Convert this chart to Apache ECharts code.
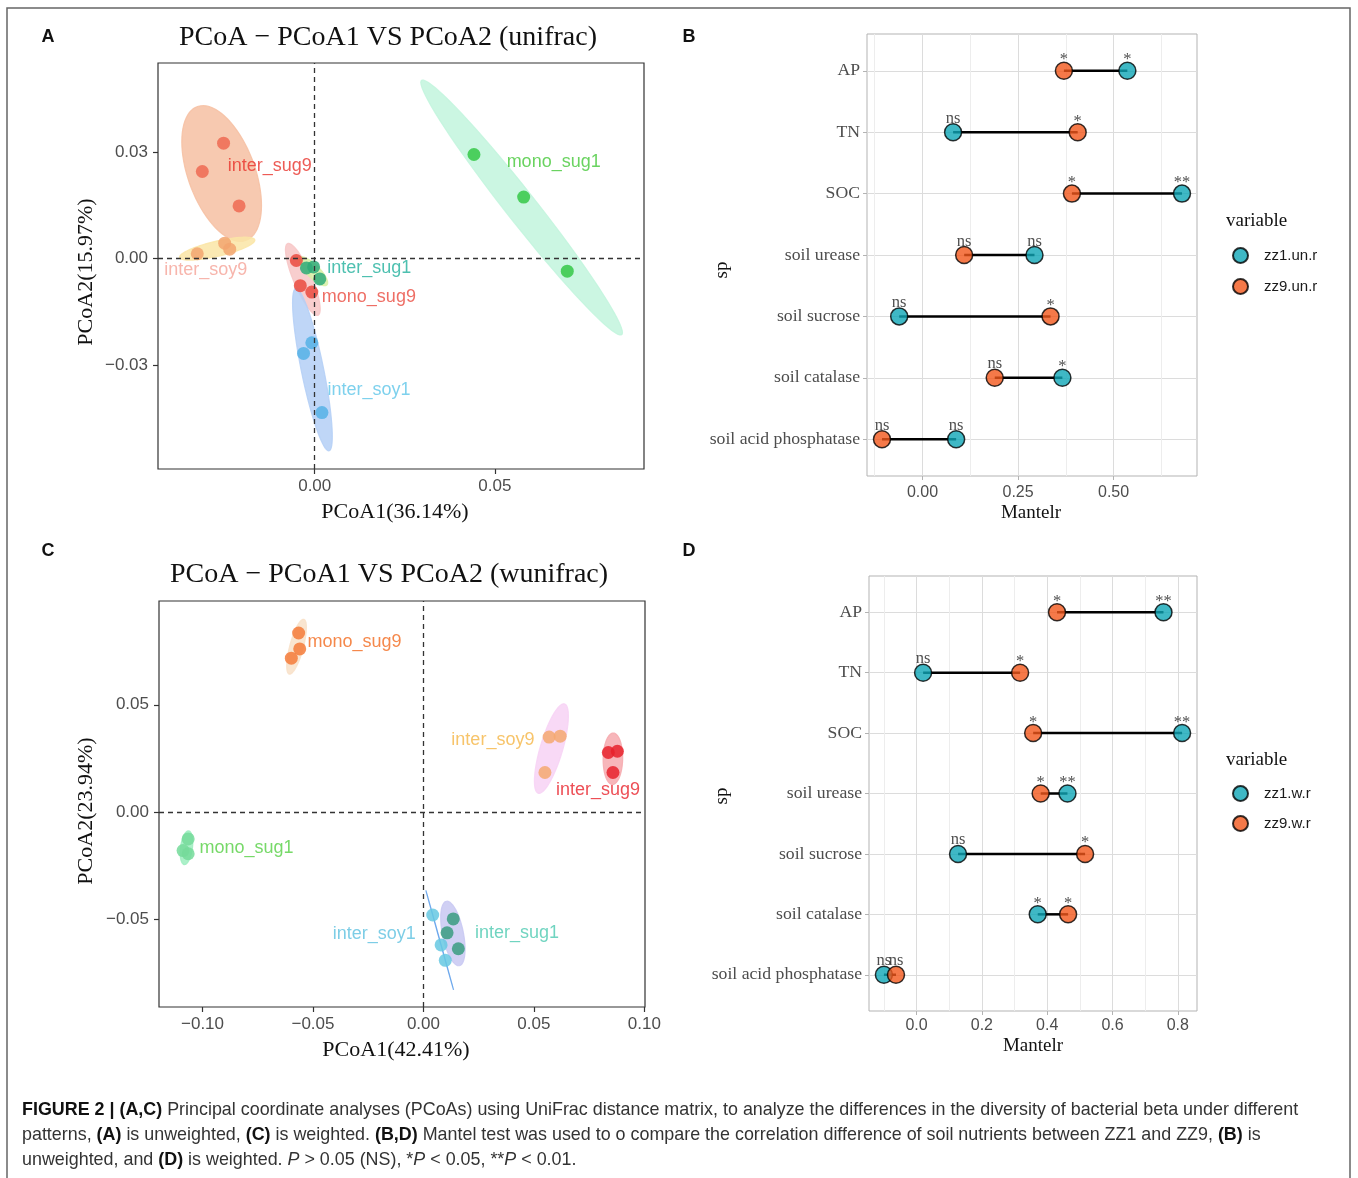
<!DOCTYPE html>
<html><head><meta charset="utf-8">
<script src="https://cdn.jsdelivr.net/npm/echarts@6/dist/echarts.min.js"></script>
<style>html,body{margin:0;padding:0;background:#fff}#c{width:1358px;height:1178px}</style>
</head><body><div id="c"></div>
<script>
// ================= DATA =================
// Panel A : PCoA (unweighted unifrac)
const groupsA = ['inter_sug9','inter_soy9','mono_sug9','inter_sug1','inter_soy1','mono_sug1'];
const pcoaA_pc1 = [
  [-0.0253,-0.0312,-0.0210],
  [-0.0326,-0.0250,-0.0236],
  [-0.0051,-0.0040,-0.0008],
  [-0.0023,-0.0003, 0.0014],
  [-0.0008,-0.0031, 0.0020],
  [ 0.0442, 0.0580, 0.0701]
];
const pcoaA_pc2 = [
  [ 0.0326, 0.0246, 0.0149],
  [ 0.0014, 0.0044, 0.0027],
  [-0.0005,-0.0076,-0.0094],
  [-0.0026,-0.0023,-0.0057],
  [-0.0237,-0.0267,-0.0434],
  [ 0.0294, 0.0174,-0.0035]
];
const rangeA_x = [-0.0435, 0.0914];
const rangeA_y = [-0.0593, 0.0552];
const ticksA_x = [0, 0.05];
const ticksA_y = [-0.03, 0, 0.03];

// Panel C : PCoA (weighted unifrac)
const groupsC = ['mono_sug9','inter_soy9','inter_sug9','mono_sug1','inter_soy1','inter_sug1'];
const pcoaC_pc1 = [
  [-0.0565,-0.0560,-0.0598],
  [ 0.0569, 0.0619, 0.0550],
  [ 0.0837, 0.0878, 0.0858],
  [-0.1065,-0.1088,-0.1065],
  [ 0.0042, 0.0080, 0.0099],
  [ 0.0135, 0.0107, 0.0158]
];
const pcoaC_pc2 = [
  [ 0.0834, 0.0760, 0.0717],
  [ 0.0350, 0.0354, 0.0185],
  [ 0.0278, 0.0284, 0.0185],
  [-0.0124,-0.0178,-0.0193],
  [-0.0478,-0.0617,-0.0689],
  [-0.0496,-0.0561,-0.0635]
];
const rangeC_x = [-0.1197, 0.1003];
const rangeC_y = [-0.0906, 0.0983];
const ticksC_x = [-0.10, -0.05, 0, 0.05, 0.10];
const ticksC_y = [-0.05, 0, 0.05];

// Panels B / D : Mantel r
const soilVars = ['AP','TN','SOC','soil urease','soil sucrose','soil catalase','soil acid phosphatase'];
const mantelB_zz1 = [0.536, 0.080, 0.679, 0.293, -0.061, 0.366, 0.088];
const mantelB_zz9 = [0.370, 0.406, 0.391, 0.109, 0.335, 0.189, -0.106];
const sigB_zz1 = ['*','ns','**','ns','ns','*','ns'];
const sigB_zz9 = ['*','*','*','ns','*','ns','ns'];
const mantelD_zz1 = [0.756, 0.020, 0.813, 0.462, 0.127, 0.371, -0.100];
const mantelD_zz9 = [0.430, 0.317, 0.357, 0.380, 0.516, 0.464, -0.063];
const sigD_zz1 = ['**','ns','**','**','ns','*','ns'];
const sigD_zz9 = ['*','*','*','*','*','*','ns'];
const ticksB_x = [0, 0.25, 0.5];
const minorB_x = [-0.125, 0.125, 0.375, 0.625];
const ticksD_x = [0, 0.2, 0.4, 0.6, 0.8];
const minorD_x = [-0.1, 0.1, 0.3, 0.5, 0.7];
const seriesNamesB = ['zz1.un.r','zz9.un.r'];
const seriesNamesD = ['zz1.w.r','zz9.w.r'];

// ================= STYLE =================
const SERIF = "'Liberation Serif','DejaVu Serif',serif";
const SANS = "'Liberation Sans',Arial,sans-serif";
const styleA = {
  point: ['#EE6A52','#F2A56E','#EA4A3E','#2FAA78','#55B2E6','#35C846'],
  label: ['#E8322B','#F5A397','#EA4A3E','#22B09C','#5EC5E8','#45C838'],
  fill:  ['#F6BFA2','#FAE5A6','#F7C6C6','#D8F0A6','#B4CFF6','#C2F5DD'],
  lab:   [[6,-7,'left'],[-53,21,'left'],[19,18,'left'],[14,-3,'left'],[15,20,'left'],[-15,-46,'left']]
};
const styleC = {
  point: ['#F47B3A','#F4A870','#E8222B','#74DA9A','#66C8E2','#3A9C80'],
  label: ['#F26A1E','#F5B545','#E8222B','#55CF43','#5DC0E0','#4CC9B0'],
  fill:  ['#F8E0C8','#F7D2F5','#F6A9AE','#9EEDC0','#5C9EEA','#C8C8F2'],
  lab:   [[11,-5,'left'],[-17,-9,'right'],[-57,31,'left'],[13,0,'left'],[-24,-6,'right'],[22,0,'left']]
};
const TEAL = '#0FA6B6', ORANGE = '#F2581C';

// ================= HELPERS =================
const mean = a => a.reduce((s, v) => s + v, 0) / a.length;
// normal-theory confidence ellipse (like ggplot2 stat_ellipse type="norm")
function ellipse(xs, ys, level, seg) {
  const n = xs.length, mx = mean(xs), my = mean(ys);
  let sxx = 0, syy = 0, sxy = 0;
  for (let i = 0; i < n; i++) {
    const dx = xs[i] - mx, dy = ys[i] - my;
    sxx += dx * dx; syy += dy * dy; sxy += dx * dy;
  }
  sxx /= (n - 1); syy /= (n - 1); sxy /= (n - 1);
  const d2 = n - 1;
  const q = d2 / 2 * (Math.pow(1 - level, -2 / d2) - 1); // qf(level, 2, n-1)
  const r = Math.sqrt(2 * q);
  const l11 = Math.sqrt(sxx), l21 = sxy / l11, l22 = Math.sqrt(Math.max(syy - l21 * l21, 0));
  const pts = [];
  for (let k = 0; k <= seg; k++) {
    const t = 2 * Math.PI * k / seg, u = Math.cos(t), v = Math.sin(t);
    pts.push([mx + r * u * l11, my + r * (u * l21 + v * l22)]);
  }
  return pts;
}
const fmt2 = v => (v < -1e-9 ? '\u2212' : '') + Math.abs(v).toFixed(2);

function pcoaAxes(gi, xr, yr, xt, yt) {
  const common = {
    type: 'value', gridIndex: gi, axisLine: { show: false, onZero: false },
    axisTick: { show: true, length: 5, lineStyle: { color: '#333', width: 1.2 } },
    splitLine: { show: false },
    axisLabel: { fontFamily: SANS, fontSize: 17, color: '#4D4D4D', margin: 9, formatter: fmt2 }
  };
  return {
    x: Object.assign({}, common, { min: xr[0], max: xr[1], position: 'bottom',
      axisTick: Object.assign({}, common.axisTick, { customValues: xt }),
      axisLabel: Object.assign({}, common.axisLabel, { customValues: xt }) }),
    y: Object.assign({}, common, { min: yr[0], max: yr[1], position: 'left',
      axisTick: Object.assign({}, common.axisTick, { customValues: yt }),
      axisLabel: Object.assign({}, common.axisLabel, { customValues: yt, margin: 10 }) })
  };
}

function pcoaSeries(xi, yi, groups, pc1, pc2, st) {
  const ells = groups.map((g, i) => ellipse(pc1[i], pc2[i], 0.7, 80));
  const cents = groups.map((g, i) => [mean(pc1[i]), mean(pc2[i])]);
  const out = [];
  out.push({
    type: 'custom', xAxisIndex: xi, yAxisIndex: yi, silent: true, z: 1,
    data: cents,
    renderItem: function (params, api) {
      const i = params.dataIndex;
      return {
        type: 'polygon',
        shape: { points: ells[i].map(p => api.coord(p)) },
        style: { fill: st.fill[i], opacity: 0.85, stroke: st.fill[i], lineWidth: 1.2 }
      };
    }
  });
  // dashed reference lines
  out.push({
    type: 'scatter', xAxisIndex: xi, yAxisIndex: yi, data: [], silent: true, z: 2,
    markLine: {
      silent: true, symbol: 'none', animation: false,
      label: { show: false },
      lineStyle: { color: '#333', type: [5, 4], width: 1.3 },
      data: [{ xAxis: 0 }, { yAxis: 0 }]
    }
  });
  groups.forEach((g, i) => {
    out.push({
      type: 'scatter', name: g, xAxisIndex: xi, yAxisIndex: yi, z: 3,
      symbolSize: 13,
      itemStyle: { color: st.point[i], opacity: 0.85 },
      data: pc1[i].map((x, k) => [x, pc2[i][k]])
    });
  });
  out.push({
    type: 'scatter', xAxisIndex: xi, yAxisIndex: yi, z: 4, symbolSize: 0, silent: true,
    data: groups.map((g, i) => ({
      name: g, value: cents[i],
      label: {
        show: true, formatter: '{b}', color: st.label[i],
        position: [st.lab[i][0], st.lab[i][1]], align: st.lab[i][2], verticalAlign: 'middle',
        fontFamily: SANS, fontSize: 18
      }
    }))
  });
  return out;
}

function mantelAxes(gi, zz1, zz9, ticks, minor, dec, labMargin) {
  const all = zz1.concat(zz9);
  const lo = Math.min.apply(null, all), hi = Math.max.apply(null, all);
  const pad = (hi - lo) * 0.05;
  const xr = [lo - pad, hi + pad];
  const xMajor = {
    type: 'value', gridIndex: gi, min: xr[0], max: xr[1], position: 'bottom',
    axisLine: { show: false, onZero: false },
    axisTick: { show: true, length: 4, customValues: ticks, lineStyle: { color: '#B3B3B3' } },
    axisLabel: { customValues: ticks, fontFamily: SANS, fontSize: 16, color: '#4D4D4D', margin: labMargin,
      formatter: v => v.toFixed(dec) },
    splitLine: { show: true, lineStyle: { color: '#DCDCDC', width: 1 } }
  };
  const xMinor = {
    type: 'value', gridIndex: gi, min: xr[0], max: xr[1], position: 'top',
    axisLine: { show: false, onZero: false },
    axisTick: { show: false, customValues: minor },
    axisLabel: { show: false, customValues: minor },
    splitLine: { show: true, lineStyle: { color: '#EDEDED', width: 1 } }
  };
  const idx = soilVars.map((s, i) => i);
  const y = {
    type: 'value', gridIndex: gi, min: -0.6, max: 6.6, inverse: true, position: 'left',
    axisLine: { show: false, onZero: false },
    axisTick: { show: true, length: 4, customValues: idx, lineStyle: { color: '#B3B3B3' } },
    axisLabel: { customValues: idx, fontFamily: SERIF, fontSize: 17.7, color: '#4D4D4D', margin: 7,
      formatter: v => soilVars[Math.round(v)] },
    splitLine: { show: true, lineStyle: { color: '#DCDCDC', width: 1 } }
  };
  return { xMajor, xMinor, y };
}

function mantelSeries(xi, yi, zz1, zz9, s1, s9, names) {
  const lab = {
    show: true, position: 'top', distance: 0, formatter: '{b}',
    fontFamily: SERIF, fontSize: 16.5, color: '#222'
  };
  const mk = (vals, sig) => vals.map((v, i) => ({
    name: sig[i], value: [v, i],
    label: { offset: sig[i] === 'ns' ? [0, 4] : [0, 7] }
  }));
  return [
    {
      type: 'custom', xAxisIndex: xi, yAxisIndex: yi, silent: true, z: 2,
      encode: { x: [0, 1], y: 2 },
      data: soilVars.map((s, i) => [zz1[i], zz9[i], i]),
      renderItem: function (params, api) {
        const a = api.coord([api.value(0), api.value(2)]);
        const b = api.coord([api.value(1), api.value(2)]);
        return { type: 'line', shape: { x1: a[0], y1: a[1], x2: b[0], y2: b[1] },
          style: { stroke: '#000', lineWidth: 2.5 } };
      }
    },
    {
      type: 'scatter', name: names[0], xAxisIndex: xi, yAxisIndex: yi, z: 3,
      symbol: 'circle', symbolSize: 17,
      itemStyle: { color: TEAL, borderColor: '#000', borderWidth: 1.5 },
      label: lab, data: mk(zz1, s1)
    },
    {
      type: 'scatter', name: names[1], xAxisIndex: xi, yAxisIndex: yi, z: 4,
      symbol: 'circle', symbolSize: 17,
      itemStyle: { color: ORANGE, borderColor: '#000', borderWidth: 1.5 },
      label: lab, data: mk(zz9, s9)
    }
  ];
}

// ================= BUILD =================
const axA = pcoaAxes(0, rangeA_x, rangeA_y, ticksA_x, ticksA_y);
const axC = pcoaAxes(2, rangeC_x, rangeC_y, ticksC_x, ticksC_y);
const axB = mantelAxes(1, mantelB_zz1, mantelB_zz9, ticksB_x, minorB_x, 2, 9);
const axD = mantelAxes(3, mantelD_zz1, mantelD_zz9, ticksD_x, minorD_x, 1, 7);

const txt = (x, y, text, font, extra) => Object.assign({
  type: 'text', x: x, y: y, silent: true,
  style: Object.assign({ text: text, font: font, fill: '#111', align: 'center', verticalAlign: 'middle' }, extra || {})
});

const graphics = [
  { type: 'rect', silent: true, shape: { x: 7, y: 8, width: 1343, height: 1210 },
    style: { fill: 'none', stroke: '#666', lineWidth: 1.5 } },
  txt(48, 37, 'A', 'bold 18px ' + SANS),
  txt(689, 37, 'B', 'bold 18px ' + SANS),
  txt(48, 551, 'C', 'bold 18px ' + SANS),
  txt(689, 551, 'D', 'bold 18px ' + SANS),
  txt(388, 38, 'PCoA \u2212 PCoA1 VS PCoA2 (unifrac)', '28px ' + SERIF),
  txt(389, 575, 'PCoA \u2212 PCoA1 VS PCoA2 (wunifrac)', '28px ' + SERIF),
  txt(395, 512, 'PCoA1(36.14%)', '22px ' + SERIF),
  txt(396, 1050, 'PCoA1(42.41%)', '22px ' + SERIF),
  Object.assign(txt(86, 272, 'PCoA2(15.97%)', '22px ' + SERIF), { rotation: Math.PI / 2 }),
  Object.assign(txt(86, 811, 'PCoA2(23.94%)', '22px ' + SERIF), { rotation: Math.PI / 2 }),
  txt(1031, 513, 'Mantelr', '19px ' + SERIF),
  txt(1033, 1046, 'Mantelr', '19px ' + SERIF),
  Object.assign(txt(722, 270, 'sp', '19px ' + SERIF), { rotation: Math.PI / 2 }),
  Object.assign(txt(722, 796, 'sp', '19px ' + SERIF), { rotation: Math.PI / 2 }),
  txt(1226, 221, 'variable', '19px ' + SERIF, { align: 'left' }),
  txt(1226, 760, 'variable', '19px ' + SERIF, { align: 'left' })
];
const capRich = { b: { fontWeight: 'bold', fill: '#111', fontFamily: SANS, fontSize: 17.9 },
  i: { fontStyle: 'italic', fill: '#333', fontFamily: SANS, fontSize: 17.9 } };
const capLines = [
  '{b|FIGURE 2 | (A,C)} Principal coordinate analyses (PCoAs) using UniFrac distance matrix, to analyze the differences in the diversity of bacterial beta under different',
  'patterns, {b|(A)} is unweighted, {b|(C)} is weighted. {b|(B,D)} Mantel test was used to o compare the correlation difference of soil nutrients between ZZ1 and ZZ9, {b|(B)} is',
  'unweighted, and {b|(D)} is weighted. {i|P} > 0.05 (NS), *{i|P} < 0.05, **{i|P} < 0.01.'
];
capLines.forEach((t, k) => graphics.push({
  type: 'text', x: 22, y: 1110 + 25 * k, silent: true,
  style: { text: t, font: '17.9px ' + SANS, fill: '#333', align: 'left', verticalAlign: 'middle', rich: capRich }
}));

const legendCommon = {
  orient: 'vertical', icon: 'circle', itemWidth: 15, itemHeight: 15, selectedMode: false,
  textStyle: { fontFamily: SANS, fontSize: 15, color: '#1a1a1a', padding: [0, 0, 0, 11] }
};

const option = {
  animation: false,
  backgroundColor: '#fff',
  grid: [
    { left: 158, top: 63, width: 486, height: 406, show: true, borderColor: '#333', borderWidth: 1.2, backgroundColor: 'transparent' },
    { left: 867, top: 34, width: 330, height: 442, show: true, borderColor: '#B3B3B3', borderWidth: 1, backgroundColor: 'transparent' },
    { left: 159, top: 601, width: 486, height: 406, show: true, borderColor: '#333', borderWidth: 1.2, backgroundColor: 'transparent' },
    { left: 869, top: 576, width: 328, height: 435, show: true, borderColor: '#B3B3B3', borderWidth: 1, backgroundColor: 'transparent' }
  ],
  xAxis: [axA.x, axB.xMajor, axB.xMinor, axC.x, axD.xMajor, axD.xMinor],
  yAxis: [axA.y, axB.y, axC.y, axD.y],
  legend: [
    Object.assign({}, legendCommon, { data: seriesNamesB, left: 1227, top: 242, itemGap: 14 }),
    Object.assign({}, legendCommon, { data: seriesNamesD, left: 1227, top: 780, itemGap: 13 })
  ],
  graphic: graphics,
  series: [].concat(
    pcoaSeries(0, 0, groupsA, pcoaA_pc1, pcoaA_pc2, styleA),
    mantelSeries(1, 1, mantelB_zz1, mantelB_zz9, sigB_zz1, sigB_zz9, seriesNamesB),
    pcoaSeries(3, 2, groupsC, pcoaC_pc1, pcoaC_pc2, styleC),
    mantelSeries(4, 3, mantelD_zz1, mantelD_zz9, sigD_zz1, sigD_zz9, seriesNamesD)
  )
};
const chart = echarts.init(document.getElementById('c'), null, { renderer: 'canvas' });
chart.setOption(option);
</script></body></html>
